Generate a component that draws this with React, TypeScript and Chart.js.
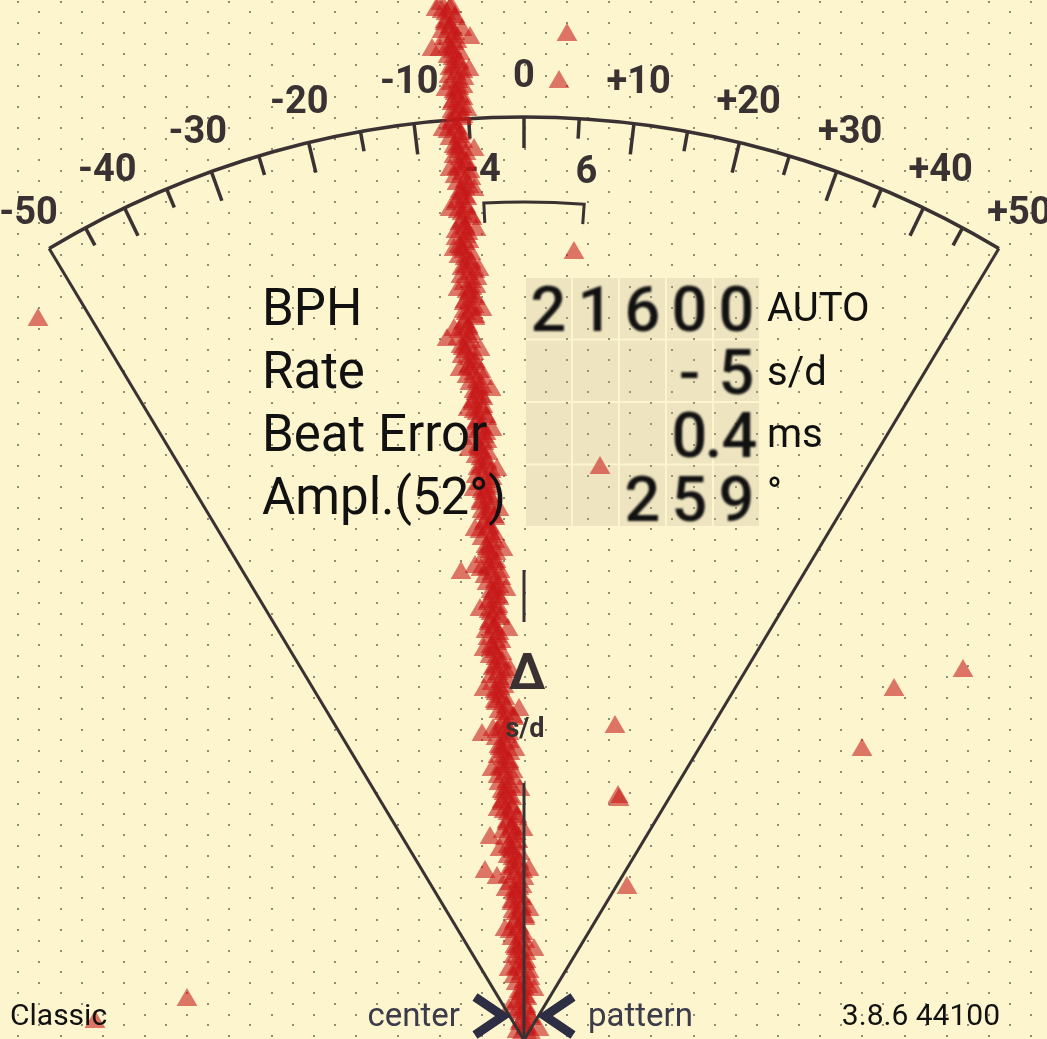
import React, { useEffect, useRef } from "react";
import { Chart, registerables } from "chart.js";

Chart.register(...registerables);

const W = 1047;
const H = 1039;

// ---------- data ----------
// "tick" beats: [deviation, time]
const tickPoints: [number, number][] = [
  [-8.3,103.5],[-7.4,103.0],[-7.8,102.5],[-6.9,102.0],[-7.9,101.5],[-7.3,101.0],[-6.9,100.5],[-8.0,100.0],
  [-7.0,99.5],[-7.4,99.0],[-6.4,98.5],[-7.1,98.0],[-6.5,97.5],[-7.4,97.0],[-6.8,96.5],[-6.0,96.0],
  [-7.3,95.5],[-6.5,95.0],[-6.9,94.5],[-6.1,94.0],[-7.2,93.5],[-6.4,93.0],[-7.0,92.5],[-6.2,92.0],
  [-7.3,91.5],[-6.7,91.0],[-6.3,90.5],[-7.4,90.0],[-6.4,89.5],[-6.8,89.0],[-5.8,88.5],[-6.4,88.0],
  [-5.8,87.5],[-6.7,87.0],[-6.2,86.5],[-5.3,86.0],[-6.7,85.5],[-5.9,85.0],[-6.4,84.5],[-5.7,84.0],
  [-6.8,83.5],[-5.8,83.0],[-6.2,82.5],[-5.2,82.0],[-6.4,81.5],[-5.9,81.0],[-5.6,80.5],[-6.8,80.0],
  [-5.9,79.5],[-6.3,79.0],[-5.3,78.5],[-5.9,78.0],[-5.3,77.5],[-6.2,77.0],[-5.6,76.5],[-4.7,76.0],
  [-6.0,75.5],[-5.2,75.0],[-5.5,74.5],[-4.9,74.0],[-6.0,73.5],[-5.2,73.0],[-5.8,72.5],[-4.9,72.0],
  [-6.1,71.5],[-5.6,71.0],[-5.3,70.5],[-6.6,70.0],[-5.7,69.5],[-6.1,69.0],[-5.0,68.5],[-5.5,68.0],
  [-4.9,67.5],[-5.6,67.0],[-5.0,66.5],[-4.1,66.0],[-5.4,65.5],[-4.5,65.0],[-4.8,64.5],[-4.1,64.0],
  [-5.1,63.5],[-4.2,63.0],[-4.7,62.5],[-3.7,62.0],[-4.8,61.5],[-4.2,61.0],[-3.8,60.5],[-5.0,60.0],
  [-4.0,59.5],[-4.5,59.0],[-3.6,58.5],[-4.3,58.0],[-3.7,57.5],[-4.6,57.0],[-4.1,56.5],[-3.2,56.0],
  [-4.5,55.5],[-3.7,55.0],[-4.0,54.5],[-3.3,54.0],[-4.3,53.5],[-3.4,53.0],[-3.9,52.5],[-2.9,52.0],
  [-4.0,51.5],[-3.5,51.0],[-3.0,50.5],[-4.2,50.0],[-3.2,49.5],[-3.7,49.0],[-2.8,48.5],[-3.4,48.0],
  [-2.9,47.5],[-3.7,47.0],[-3.2,46.5],[-2.3,46.0],[-3.7,45.5],[-2.8,45.0],[-3.1,44.5],[-2.5,44.0],
  [-3.6,43.5],[-2.7,43.0],[-3.3,42.5],[-2.4,42.0],[-3.5,41.5],[-2.9,41.0],[-2.5,40.5],[-3.6,40.0],
  [-2.7,39.5],[-3.2,39.0],[-2.2,38.5],[-2.8,38.0],[-2.3,37.5],[-3.1,37.0],[-2.6,36.5],[-1.8,36.0],
  [-3.2,35.5],[-2.4,35.0],[-2.8,34.5],[-1.9,34.0],[-2.8,33.5],[-1.7,33.0],[-2.0,32.5],[-1.0,32.0],
  [-2.2,31.5],[-1.8,31.0],[-1.5,30.5],[-2.8,30.0],[-1.9,29.5],[-2.4,29.0],[-1.4,28.5],[-2.1,28.0],
  [-1.5,27.5],[-2.4,27.0],[-1.9,26.5],[-1.1,26.0],[-2.5,25.5],[-1.7,25.0],[-2.0,24.5],[-1.2,24.0],
  [-2.2,23.5],[-1.2,23.0],[-1.6,22.5],[-0.7,22.0],[-1.7,21.5],[-1.2,21.0],[-0.8,20.5],[-1.9,20.0],
  [-1.0,19.5],[-1.4,19.0],[-0.4,18.5],[-1.1,18.0],[-0.5,17.5],[-1.4,17.0],[-0.9,16.5],[0.0,16.0],
  [-1.4,15.5],[-0.5,15.0],[-0.9,14.5],[-0.2,14.0],[-1.2,13.5],[-0.3,13.0],[-0.8,12.5],[0.1,12.0],
  [-1.0,11.5],[-0.5,11.0],[-0.1,10.5],[-1.2,10.0],[-0.3,9.5],[-0.8,9.0],[0.2,8.5],[-0.5,8.0],
  [0.1,7.5],[-0.8,7.0],[-0.3,6.5],[0.6,6.0],[-0.8,5.5],[0.0,5.0],[-0.4,4.5],[0.3,4.0],
  [-0.8,3.5],[0.2,3.0],[-0.3,2.5],[0.7,2.0],[-0.4,1.5],[0.2,1.0],[0.7,0.5],[-0.5,0.0],
];

// "tock" beats: [deviation, time]
const tockPoints: [number, number][] = [
  [-7.3,103.2],[-8.2,102.7],[-6.9,102.2],[-7.9,101.7],[-7.4,101.2],[-8.2,100.7],[-7.1,100.2],[-6.7,99.7],
  [-7.6,99.2],[-7.1,98.7],[-7.6,98.2],[-6.5,97.7],[-7.1,97.2],[-6.1,96.7],[-7.5,96.2],[-6.6,95.7],
  [-6.1,95.2],[-7.0,94.7],[-6.4,94.2],[-7.1,93.7],[-6.2,93.2],[-7.2,92.7],[-6.1,92.2],[-7.2,91.7],
  [-6.8,91.2],[-7.6,90.7],[-6.5,90.2],[-6.1,89.7],[-7.0,89.2],[-6.5,88.7],[-7.0,88.2],[-5.8,87.7],
  [-6.4,87.2],[-5.4,86.7],[-6.9,86.2],[-5.9,85.7],[-5.5,85.2],[-6.4,84.7],[-5.9,84.2],[-6.7,83.7],
  [-5.8,83.2],[-6.6,82.7],[-5.3,82.2],[-6.2,81.7],[-5.9,81.2],[-6.8,80.7],[-5.8,80.2],[-5.5,79.7],
  [-6.5,79.2],[-6.0,78.7],[-6.5,78.2],[-5.3,77.7],[-5.9,77.2],[-4.9,76.7],[-6.3,76.2],[-5.3,75.7],
  [-4.8,75.2],[-5.7,74.7],[-5.0,74.2],[-5.9,73.7],[-5.0,73.2],[-6.0,72.7],[-4.9,72.2],[-5.9,71.7],
  [-5.6,71.2],[-6.5,70.7],[-5.5,70.2],[-5.3,69.7],[-6.3,69.2],[-5.8,68.7],[-6.2,68.2],[-4.9,67.7],
  [-5.5,67.2],[-4.3,66.7],[-5.7,66.2],[-4.7,65.7],[-4.2,65.2],[-5.0,64.7],[-4.3,64.2],[-5.1,63.7],
  [-4.1,63.2],[-5.0,62.7],[-3.8,62.2],[-4.7,61.7],[-4.3,61.2],[-5.1,60.7],[-4.0,60.2],[-3.7,59.7],
  [-4.6,59.2],[-4.2,58.7],[-4.8,58.2],[-3.7,57.7],[-4.3,57.2],[-3.3,56.7],[-4.8,56.2],[-3.8,55.7],
  [-3.3,55.2],[-4.2,54.7],[-3.5,54.2],[-4.3,53.7],[-3.3,53.2],[-4.2,52.7],[-3.0,52.2],[-3.9,51.7],
  [-3.5,51.2],[-4.4,50.7],[-3.2,50.2],[-2.9,49.7],[-3.8,49.2],[-3.4,48.7],[-4.0,48.2],[-2.8,47.7],
  [-3.5,47.2],[-2.4,46.7],[-3.9,46.2],[-2.9,45.7],[-2.5,45.2],[-3.3,44.7],[-2.6,44.2],[-3.5,43.7],
  [-2.6,43.2],[-3.5,42.7],[-2.4,42.2],[-3.4,41.7],[-3.0,41.2],[-3.8,40.7],[-2.7,40.2],[-2.3,39.7],
  [-3.3,39.2],[-2.9,38.7],[-3.4,38.2],[-2.2,37.7],[-2.9,37.2],[-1.8,36.7],[-3.3,36.2],[-2.4,35.7],
  [-2.0,35.2],[-2.9,34.7],[-2.3,34.2],[-2.9,33.7],[-1.8,33.2],[-2.5,32.7],[-1.1,32.2],[-2.0,31.7],
  [-1.7,31.2],[-2.7,30.7],[-1.7,30.2],[-1.5,29.7],[-2.5,29.2],[-2.1,28.7],[-2.6,28.2],[-1.5,27.7],
  [-2.1,27.2],[-1.1,26.7],[-2.6,26.2],[-1.7,25.7],[-1.3,25.2],[-2.2,24.7],[-1.5,24.2],[-2.2,23.7],
  [-1.2,23.2],[-2.0,22.7],[-0.7,22.2],[-1.7,21.7],[-1.2,21.2],[-2.1,20.7],[-1.0,20.2],[-0.6,19.7],
  [-1.6,19.2],[-1.1,18.7],[-1.6,18.2],[-0.5,17.7],[-1.1,17.2],[-0.1,16.7],[-1.6,16.2],[-0.6,15.7],
  [-0.2,15.2],[-1.0,14.7],[-0.4,14.2],[-1.2,13.7],[-0.2,13.2],[-1.1,12.7],[0.1,12.2],[-0.9,11.7],
  [-0.5,11.2],[-1.4,10.7],[-0.3,10.2],[0.1,9.7],[-0.9,9.2],[-0.5,8.7],[-1.0,8.2],[0.2,7.7],
  [-0.5,7.2],[0.5,6.7],[-1.0,6.2],[0.0,5.7],[0.4,5.2],[-0.5,4.7],[0.1,4.2],[-0.7,3.7],
  [0.2,3.2],[-0.7,2.7],[0.6,2.2],[-0.3,1.7],[0.2,1.2],[-0.7,0.7],[0.5,0.2],
];

// beats on the ragged edges of the trail
const edgePoints: [number, number][] = [
  [-8.8,102.9],[-6.2,100.9],[-8.4,98.9],[-5.5,96.9],[-7.8,94.9],[-5.7,92.9],[-8.1,90.9],[-5.0,88.9],
  [-7.4,86.9],[-5.0,84.9],[-7.4,82.9],[-4.8,80.9],[-7.0,78.9],[-4.5,76.9],[-6.6,74.9],[-4.2,72.9],
  [-7.0,70.9],[-4.4,68.9],[-6.4,66.9],[-3.3,64.9],[-5.6,62.9],[-3.2,60.9],[-5.5,58.9],[-2.7,56.9],
  [-5.0,54.9],[-2.5,52.9],[-4.9,50.9],[-2.1,48.9],[-4.3,46.9],[-1.8,44.9],[-4.4,42.9],[-1.6,40.9],
  [-4.0,38.9],[-1.4,36.9],[-4.0,34.9],[-0.5,32.9],[-3.1,30.9],[-0.9,28.9],[-3.2,26.9],[-0.4,24.9],
  [-2.6,22.9],[-0.1,20.9],[-2.4,18.9],[0.5,16.9],[-1.8,14.9],[0.5,12.9],[-1.9,10.9],[1.0,8.9],
  [-1.5,6.9],[1.0,4.9],[-1.5,2.9],[1.5,0.9],
];

// isolated beats off the trail
const strayPoints: [number, number][] = [
  [4.3,100.4],[3.5,95.7],[5.0,78.6],[-48.6,71.9],[7.6,57.1],[-6.3,46.6],[-4.9,47.2],
  [9.1,31.2],[37.0,34.9],[43.9,36.8],[33.8,28.9],[9.4,24.2],[9.5,23.9],[10.3,15.1],
  [-33.7,3.9],[-42.9,1.7],[-9.2,98.9],[-5.4,100.1],[-7.7,69.9],[-4.2,30.4],[-3.4,20.1],
  [-3.9,16.7],[-2.7,16.1],
];

// gauge (s/d)
const gaugeTickValues = [-50,-45,-40,-35,-30,-25,-20,-15,-10,-5,0,5,10,15,20,25,30,35,40,45,50];
const gaugeLabelValues = [-50,-40,-30,-20,-10,0,10,20,30,40,50];
const gaugeLabels = ["-50","-40","-30","-20","-10","0","+10","+20","+30","+40","+50"];
const bracketValues = [-4, 6];
const bracketLabels = ["-4", "6"];
const needleValue = 0;

// readings panel
const readingLabels = ["BPH", "Rate", "Beat Error", "Ampl.(52°)"];
const readingDigits = [
  ["2", "1", "6", "0", "0"],
  ["", "", "", "-", "5"],
  ["", "", "", "0", ".4"],
  ["", "", "2", "5", "9"],
];
const readingUnits = ["AUTO", "s/d", "ms", "°"];

// footer
const footerLeft = "Classic";
const footerCenterLeft = "center";
const footerCenterRight = "pattern";
const footerRight = "3.8.6 44100";

// ---------- styling ----------
const BG = "#fdf5cd";
const DOT = "#8f8c78";
const INK = "#3a3232";
const K = 0.012; // tangent per s/d
const APEX_Y = -0.1; // data y of the gauge apex
const R = 923;

const gaugePlugin = {
  id: "gauge",
  beforeDatasetsDraw(chart: any) {
    const ctx: CanvasRenderingContext2D = chart.ctx;
    const xs = chart.scales.x;
    const ys = chart.scales.y;
    const ax = xs.getPixelForValue(0);
    const ay = ys.getPixelForValue(APEX_Y);
    const pt = (v: number, r: number) => {
      const p = Math.atan(v * K);
      return [ax + r * Math.sin(p), ay - r * Math.cos(p)];
    };
    ctx.save();
    ctx.fillStyle = BG;
    ctx.fillRect(0, 0, chart.width, chart.height);

    // dotted grid
    ctx.fillStyle = DOT;
    for (let j = 0; 1.7 + 10.55 * j < chart.height + 2; j++) {
      const y = 1.7 + 10.55 * j;
      const x0 = j % 2 === 0 ? 18.3 : 39.4;
      for (let x = x0; x < chart.width + 2; x += 42.2) {
        ctx.fillRect(Math.round(x) - 1, Math.round(y) - 1, 2, 2);
      }
    }

    // readings panel cells
    const px0 = 525, py0 = 277, cw = 47, ch = 62.5;
    ctx.fillStyle = "rgba(185,175,145,0.22)";
    for (let r = 0; r < 4; r++) {
      for (let c = 0; c < 5; c++) {
        ctx.fillRect(px0 + c * cw + 1, py0 + r * ch + 1, cw - 2, ch - 2);
      }
    }

    // arc
    const p50 = Math.atan(50 * K);
    ctx.strokeStyle = INK;
    ctx.lineWidth = 3.5;
    ctx.beginPath();
    ctx.arc(ax, ay, R, -Math.PI / 2 - p50, -Math.PI / 2 + p50);
    ctx.stroke();

    // ticks
    ctx.lineWidth = 3.5;
    gaugeTickValues.forEach((v) => {
      if (Math.abs(v) === 50) return;
      const len = v % 10 === 0 ? 31 : 20;
      const [x1, y1] = pt(v, R);
      const [x2, y2] = pt(v, R - len);
      ctx.beginPath();
      ctx.moveTo(x1, y1);
      ctx.lineTo(x2, y2);
      ctx.stroke();
    });

    // bracket
    ctx.lineWidth = 3;
    const b0 = Math.atan(bracketValues[0] * K);
    const b1 = Math.atan(bracketValues[1] * K);
    const [bx0, by0] = pt(bracketValues[0], 818);
    const [bx1, by1] = pt(bracketValues[1], 818);
    ctx.beginPath();
    ctx.moveTo(bx0, by0);
    ctx.arc(ax, ay, 838, -Math.PI / 2 + b0, -Math.PI / 2 + b1);
    ctx.lineTo(bx1, by1);
    ctx.stroke();

    // scale labels
    ctx.fillStyle = INK;
    ctx.font = "bold 38px Roboto";
    ctx.textAlign = "center";
    ctx.textBaseline = "middle";
    gaugeLabelValues.forEach((v, i) => {
      const [x, y] = pt(v, 963);
      ctx.fillText(gaugeLabels[i], x, y);
    });
    bracketValues.forEach((v, i) => {
      const [x, y] = pt(v, 869);
      ctx.fillText(bracketLabels[i], x, y);
    });
    ctx.restore();
  },
  afterDatasetsDraw(chart: any) {
    const ctx: CanvasRenderingContext2D = chart.ctx;
    const xs = chart.scales.x;
    const ys = chart.scales.y;
    const ax = xs.getPixelForValue(0);
    const ay = ys.getPixelForValue(APEX_Y);
    const pt = (v: number, r: number) => {
      const p = Math.atan(v * K);
      return [ax + r * Math.sin(p), ay - r * Math.cos(p)];
    };
    ctx.save();
    // fan sides
    ctx.strokeStyle = INK;
    ctx.lineWidth = 3;
    [-50, 50].forEach((v) => {
      const [x, y] = pt(v, R);
      ctx.beginPath();
      ctx.moveTo(ax, ay);
      ctx.lineTo(x, y);
      ctx.stroke();
    });
    // needle
    ctx.lineWidth = 3;
    const segs = [[418, 470], [0, 257]];
    segs.forEach(([r0, r1]) => {
      const [x0, y0] = pt(needleValue, r0);
      const [x1, y1] = pt(needleValue, r1);
      ctx.beginPath();
      ctx.moveTo(x0, y0);
      ctx.lineTo(x1, y1);
      ctx.stroke();
    });
    ctx.fillStyle = INK;
    ctx.textAlign = "center";
    ctx.textBaseline = "middle";
    ctx.font = "bold 50px Roboto";
    {
      const [x, y] = pt(needleValue, 364);
      ctx.fillText("Δ", x + 3, y);
    }
    ctx.font = "bold 27px Roboto";
    {
      const [x, y] = pt(needleValue, 310);
      ctx.fillText("s/d", x + 1, y);
    }

    // readings
    ctx.textBaseline = "alphabetic";
    ctx.textAlign = "left";
    ctx.fillStyle = "#111111";
    ctx.font = "51px Roboto";
    const baseY = [325, 388, 451, 514];
    readingLabels.forEach((t, i) => ctx.fillText(t, 262, baseY[i]));

    ctx.save();
    ctx.filter = "blur(1px)";
    ctx.font = "500 63px Roboto";
    ctx.textAlign = "center";
    const digitBase = [331, 394, 457, 521];
    readingDigits.forEach((row, r) => {
      row.forEach((d, c) => {
        if (!d) return;
        const cx = 525 + c * 47 + 23.5;
        if (d.startsWith(".")) {
          ctx.fillText(".", cx - 23, digitBase[r]);
          ctx.fillText(d.slice(1), cx + 3, digitBase[r]);
        } else {
          ctx.fillText(d, cx, digitBase[r]);
        }
      });
    });
    ctx.restore();

    ctx.fillStyle = "#111111";
    ctx.textAlign = "left";
    ctx.font = "40px Roboto";
    const unitBase = [321, 385, 447, 506];
    readingUnits.forEach((t, i) => ctx.fillText(t, 767, unitBase[i]));

    // footer
    ctx.font = "30px Roboto";
    ctx.fillStyle = "#111111";
    ctx.fillText(footerLeft, 10, 1025);
    ctx.textAlign = "right";
    ctx.fillText(footerRight, 1000, 1025);
    ctx.fillStyle = "#3b3b4a";
    ctx.font = "33px Roboto";
    ctx.fillText(footerCenterLeft, 460, 1026);
    ctx.textAlign = "left";
    ctx.fillText(footerCenterRight, 588, 1026);

    // chevrons
    ctx.strokeStyle = "#2d2d44";
    ctx.lineWidth = 9;
    ctx.lineJoin = "miter";
    ctx.beginPath();
    ctx.moveTo(475, 997);
    ctx.lineTo(503, 1016);
    ctx.lineTo(475, 1035);
    ctx.stroke();
    ctx.beginPath();
    ctx.moveTo(573, 997);
    ctx.lineTo(545, 1016);
    ctx.lineTo(573, 1035);
    ctx.stroke();
    ctx.restore();
  },
};

export default function App() {
  const ref = useRef<HTMLCanvasElement>(null);
  useEffect(() => {
    document.body.style.margin = "0";
    const canvas = ref.current;
    if (!canvas) return;
    const pointColor = "rgba(198,24,24,0.58)";
    const mk = (label: string, pts: [number, number][]) =>
      ({
        label,
        data: pts.map(([x, y]) => ({ x, y })),
        pointStyle: "triangle",
        pointRadius: 12,
        pointBorderWidth: 0,
        borderWidth: 0,
        backgroundColor: pointColor,
        clip: false,
      } as any);
    const chart = new Chart(canvas, {
      type: "scatter",
      data: {
        datasets: [
          mk("tick", tickPoints),
          mk("tock", tockPoints),
          mk("edge", edgePoints),
          mk("stray", strayPoints),
        ],
      },
      options: {
        responsive: false,
        animation: false,
        events: [],
        layout: { padding: 0, autoPadding: false } as any,
        scales: {
          x: { type: "linear", min: -52.4, max: 52.3, display: false },
          y: { type: "linear", min: 0, max: 103.9, display: false },
        },
        plugins: {
          legend: { display: false },
          tooltip: { enabled: false },
        },
      },
      plugins: [gaugePlugin],
    });
    return () => chart.destroy();
  }, []);
  return (
    <div style={{ position: "fixed", left: 0, top: 0, width: W, height: H, overflow: "hidden" }}>
      <canvas ref={ref} width={W} height={H} style={{ display: "block", width: W, height: H }} />
    </div>
  );
}
